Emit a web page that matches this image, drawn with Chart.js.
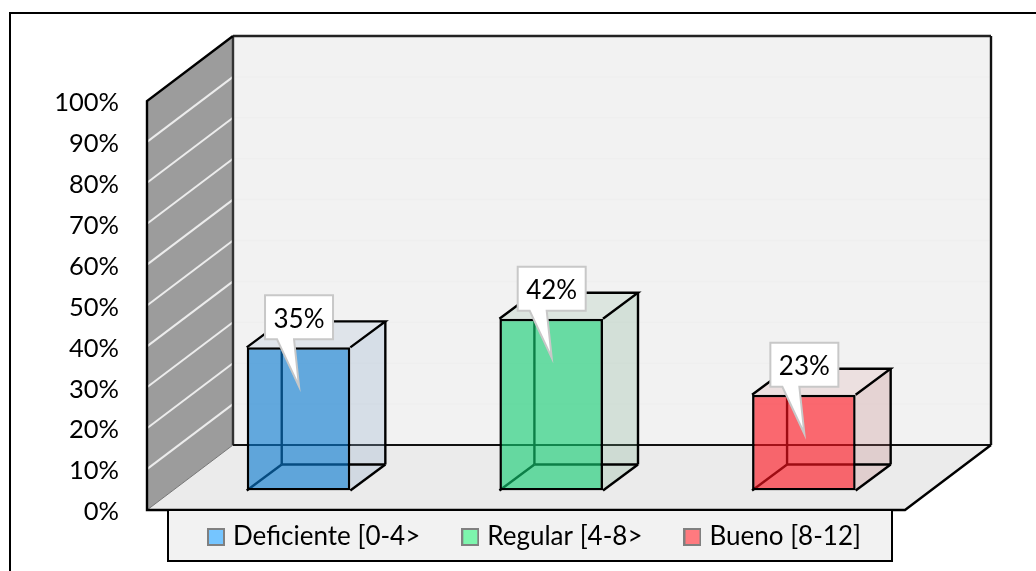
<!DOCTYPE html>
<html>
<head>
<meta charset="utf-8">
<style>
html,body{margin:0;padding:0;background:#fff;}
#wrap{position:absolute;left:0;top:0;width:1036px;height:571px;}
</style>
<script src="https://cdn.jsdelivr.net/npm/chart.js@4"></script>
</head>
<body>
<div id="wrap"><canvas id="c" width="1036" height="571"></canvas></div>
<script>
const categories = ["Deficiente [0-4>", "Regular [4-8>", "Bueno [8-12]"];
const values = [35, 42, 23.4];
const tickStep = 10;
const frontColors = ["rgba(10,122,208,0.62)", "rgba(20,205,115,0.62)", "rgba(255,20,30,0.62)"];
const sideColors = ["rgba(150,175,205,0.30)", "rgba(120,170,140,0.25)", "rgba(190,120,120,0.25)"];
const topColors = ["rgba(150,175,205,0.20)", "rgba(120,170,140,0.18)", "rgba(200,120,120,0.15)"];
const swatchColors = ["#75c5ff", "#7df5ad", "#ff7a7f"];

const FONT = "Lato, Carlito, Calibri, sans-serif";
const wallDepth = {x: 86, y: -65};
const barShift = {x: 25.2, y: -19.5};
const barDepth = {x: 35, y: -26};
const EDGE = 2.4;

function poly(ctx, pts, fill, stroke, lw) {
  ctx.beginPath();
  pts.forEach((p, i) => i ? ctx.lineTo(p[0], p[1]) : ctx.moveTo(p[0], p[1]));
  ctx.closePath();
  if (fill) { ctx.fillStyle = fill; ctx.fill(); }
  if (stroke) { ctx.strokeStyle = stroke; ctx.lineWidth = lw || 2; ctx.stroke(); }
}
function seg(ctx, x1, y1, x2, y2, c, lw) {
  ctx.beginPath(); ctx.moveTo(x1, y1); ctx.lineTo(x2, y2);
  ctx.strokeStyle = c; ctx.lineWidth = lw; ctx.stroke();
}
function swatch(color) {
  const s = document.createElement("canvas");
  s.width = 18; s.height = 18;
  const g = s.getContext("2d");
  g.fillStyle = "#808080"; g.fillRect(0, 0, 18, 18);
  g.fillStyle = color; g.fillRect(2, 2, 14, 14);
  return s;
}

const scene = {
  id: "scene",
  beforeLayout(chart) {
    const l = chart.legend;
    if (l && !l._sized) {
      const fit = l.fit;
      l.fit = function () { fit.call(this); this.height = 61; };
      l._sized = true;
    }
  },
  afterLayout(chart) {
    const l = chart.legend;
    l.left = 166; l.right = 1000; l.top = 478; l.bottom = 561;
  },
  beforeDraw(chart) {
    const ctx = chart.ctx, a = chart.chartArea, y = chart.scales.y;
    const dx = wallDepth.x, dy = wallDepth.y;
    ctx.save();
    ctx.lineJoin = "miter";
    // outer frame
    ctx.strokeStyle = "#000"; ctx.lineWidth = 2;
    ctx.beginPath(); ctx.moveTo(10, 572); ctx.lineTo(10, 13); ctx.lineTo(1037, 13); ctx.stroke();
    // back wall
    poly(ctx, [[a.left+dx,a.top+dy],[a.right+dx,a.top+dy],[a.right+dx,a.bottom+dy],[a.left+dx,a.bottom+dy]], "#f2f2f2");
    // floor
    poly(ctx, [[a.left,a.bottom],[a.left+dx,a.bottom+dy],[a.right+dx,a.bottom+dy],[a.right,a.bottom]], "#ebebeb");
    // side wall
    poly(ctx, [[a.left,a.top],[a.left+dx,a.top+dy],[a.left+dx,a.bottom+dy],[a.left,a.bottom]], "#9c9c9c");
    // gridlines on walls
    y.ticks.forEach(t => {
      const py = y.getPixelForValue(t.value);
      if (t.value > 0 && t.value < 100) {
        seg(ctx, a.left, py, a.left+dx, py+dy, "#ececec", 2);
        seg(ctx, a.left+dx, py+dy, a.right+dx, py+dy, "#efefef", 1.5);
      }
    });
    seg(ctx, a.left, a.bottom, a.left+dx, a.bottom+dy, "#777", 1);
    // wall outlines
    seg(ctx, a.left+dx, a.top+dy, a.left+dx, a.bottom+dy, "#333", EDGE);
    seg(ctx, a.left+dx, a.top+dy, a.right+dx, a.top+dy, "#222", EDGE);
    seg(ctx, a.right+dx, a.top+dy, a.right+dx, a.bottom+dy, "#111", EDGE);
    seg(ctx, a.left+dx, a.bottom+dy, a.right+dx, a.bottom+dy, "#111", 2);
    ctx.beginPath();
    ctx.moveTo(a.right+dx, a.bottom+dy); ctx.lineTo(a.right, a.bottom); ctx.lineTo(a.left, a.bottom);
    ctx.lineTo(a.left, a.top); ctx.lineTo(a.left+dx, a.top+dy);
    ctx.strokeStyle = "#000"; ctx.lineWidth = EDGE; ctx.stroke();
    // legend box
    ctx.fillStyle = "#f2f2f2"; ctx.fillRect(168, a.bottom+1, 724, 50);
    ctx.strokeStyle = "#000"; ctx.lineWidth = 2;
    ctx.beginPath(); ctx.moveTo(168, a.bottom+1); ctx.lineTo(168, 561); ctx.lineTo(892, 561); ctx.lineTo(892, a.bottom+1); ctx.stroke();
    ctx.restore();
  },
  beforeDatasetsDraw(chart) {
    const ctx = chart.ctx, meta = chart.getDatasetMeta(0);
    ctx.save();
    ctx.lineJoin = "miter";
    meta.data.forEach((bar, i) => {
      const l = bar.x - bar.width/2 + barShift.x, r = bar.x + bar.width/2 + barShift.x;
      const t = bar.y + barShift.y, b = bar.base + barShift.y;
      const dx = barDepth.x, dy = barDepth.y;
      poly(ctx, [[r,t],[r+dx,t+dy],[r+dx,b+dy],[r,b]], sideColors[i]);
      poly(ctx, [[l,t],[l+dx,t+dy],[r+dx,t+dy],[r,t]], topColors[i]);
      seg(ctx, l+dx, t+dy, l+dx, b+dy, "#000", EDGE);
      seg(ctx, l+dx, b+dy, r+dx, b+dy, "#000", EDGE);
      seg(ctx, l, b, l+dx, b+dy, "#000", EDGE);
      seg(ctx, r, b, r+dx, b+dy, "#000", EDGE);
      seg(ctx, r+dx, b+dy, r+dx, t+dy, "#000", EDGE);
      ctx.beginPath(); ctx.moveTo(l, t); ctx.lineTo(l+dx, t+dy); ctx.lineTo(r+dx, t+dy); ctx.lineTo(r, t);
      ctx.strokeStyle = "#000"; ctx.lineWidth = EDGE; ctx.stroke();
    });
    ctx.translate(barShift.x, barShift.y);
  },
  afterDatasetsDraw(chart) {
    const ctx = chart.ctx, meta = chart.getDatasetMeta(0);
    ctx.restore();
    ctx.save();
    meta.data.forEach((bar, i) => {
      const cx = bar.x + barShift.x, t = bar.y + barShift.y;
      const pts = [
        [cx-33.5, t-52],[cx+34.5, t-52],[cx+34.5, t-8],[cx-4.5, t-8],
        [cx+0.5, t+39],[cx-21.5, t-8],[cx-33.5, t-8]
      ];
      poly(ctx, pts, "#fff", "#c8c8c8", 2);
      ctx.fillStyle = "#000";
      ctx.font = "26px " + FONT;
      ctx.textAlign = "center"; ctx.textBaseline = "middle";
      ctx.fillText(Math.round(values[i]) + "%", cx + 0.5, t - 28);
    });
    ctx.restore();
  }
};

new Chart(document.getElementById("c"), {
  type: "bar",
  plugins: [scene],
  data: {
    labels: categories,
    datasets: [{
      data: values,
      backgroundColor: frontColors,
      borderColor: "#000",
      borderWidth: 2.5,
      borderSkipped: false,
      categoryPercentage: 1,
      barPercentage: 0.41
    }]
  },
  options: {
    responsive: false,
    animation: false,
    layout: {padding: {top: 101, right: 131, left: 0, bottom: 0}},
    plugins: {
      tooltip: {enabled: false},
      legend: {
        position: "bottom",
        align: "start",
        labels: {
          usePointStyle: true, pointStyleWidth: 8,
          boxWidth: 18, boxHeight: 18, padding: 46,
          color: "#000",
          font: {family: FONT, size: 26},
          generateLabels: () => categories.map((c, i) => ({
            text: c, pointStyle: swatch(swatchColors[i]), fillStyle: swatchColors[i],
            strokeStyle: "#808080", lineWidth: 2, index: i
          }))
        }
      }
    },
    scales: {
      x: {display: false},
      y: {
        min: 0, max: 100,
        afterFit: s => { s.width = 147; },
        grid: {display: false},
        border: {display: false},
        ticks: {
          stepSize: tickStep, padding: 20, labelOffset: 2, color: "#000",
          font: {family: FONT, size: 25.5},
          callback: v => v + "%"
        }
      }
    }
  }
});
</script>
</body>
</html>
